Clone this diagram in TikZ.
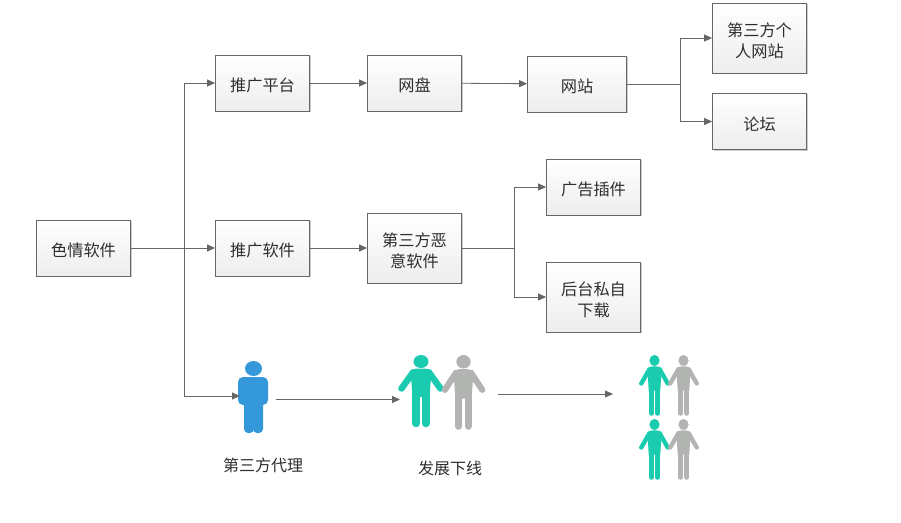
\documentclass[tikz,border=0pt]{standalone}
\usepackage{fontspec}
\newfontfamily\cjk{Noto Sans CJK SC}
\usetikzlibrary{arrows.meta,shadows}
\definecolor{linegray}{HTML}{666666}
\definecolor{textdark}{HTML}{2E2E2E}
\definecolor{agentblue}{HTML}{3498DB}
\definecolor{teamgreen}{HTML}{1BCBB0}
\definecolor{teamgray}{HTML}{B2B4B2}
\tikzset{
  flowbox/.style={draw=linegray,line width=0.8pt,top color=white,bottom color=black!7,
    minimum width=94pt,minimum height=56pt,inner sep=0pt,align=center,text=textdark,
    font=\cjk\fontsize{16.2}{21.5}\selectfont,
    execute at begin node={\rule{0pt}{18.5pt}},
    drop shadow={shadow xshift=1pt,shadow yshift=-1pt,opacity=0.2,fill=black}},
  tallbox/.style={flowbox,minimum height=70pt,text width=90pt,
    execute at begin node={\rule{0pt}{19pt}}},
  caption/.style={inner sep=0pt,text=textdark,font=\cjk\fontsize{16}{20}\selectfont},
  link/.style={draw=linegray,line width=0.8pt},
  linkarrow/.style={link,-{Triangle[length=8pt,width=7pt]}}
}
% figure: x of centre, y of head top, xscale, yscale, colour
\newcommand{\figperson}[5]{
  \begin{scope}[shift={(#1,#2)},xscale=#3,yscale=#4,#5,fill=#5,line cap=round,line join=round]
    \fill (0,6.5) ellipse (7.5 and 6.5);
    \fill (-4,13.5) -- (4,13.5) -- (10.5,15) -- (8.5,42) -- (-8.5,42) -- (-10.5,15) -- cycle;
    \draw[line width=#3*6.5pt] (-8,17.5) -- (-19.5,33.5);
    \draw[line width=#3*6.5pt] (8,17.5) -- (19.5,33.5);
    \draw[line width=#3*7.5pt] (-4.8,38) -- (-4.8,68.5);
    \draw[line width=#3*7.5pt] (4.8,38) -- (4.8,68.5);
  \end{scope}
}
\begin{document}
\begin{tikzpicture}[x=1pt,y=-1pt]
  \useasboundingbox (0,0) rectangle (901,522);
  % Boxes
  \node[flowbox] (seqing) at (83.5,248) {色情软件};
  \node[flowbox] (pingtai) at (262.5,83) {推广平台};
  \node[flowbox] (wangpan) at (414.5,83) {网盘};
  \node[flowbox,minimum width=99pt] (wangzhan) at (577,84) {网站};
  \node[tallbox] (geren) at (759.5,38) {第三方个\\人网站};
  \node[flowbox,minimum height=56.5pt] (luntan) at (759.5,121.5) {论坛};
  \node[flowbox] (ruanjian) at (262.5,248) {推广软件};
  \node[tallbox] (eyi) at (414.5,248) {第三方恶\\意软件};
  \node[flowbox] (chajian) at (593.5,187) {广告插件};
  \node[tallbox] (xiazai) at (593.5,297) {后台私自\\下载};
  % Agent
  \fill[agentblue] (253.5,368.5) ellipse (8.5 and 7.5);
  \fill[agentblue,rounded corners=5pt] (238,377) rectangle (268,405);
  \fill[agentblue,rounded corners=4pt] (244,395) rectangle (254,433);
  \fill[agentblue,rounded corners=4pt] (253,395) rectangle (263,433);
  \coordinate (agentin) at (240,396);
  \coordinate (agentout) at (276,399.5);
  \coordinate (teamin) at (400,399.5);
  \coordinate (teamout) at (498,394);
  \coordinate (groupin) at (613,394);
  % Teams
  \figperson{421}{355}{1}{1}{teamgreen}
  \figperson{463.5}{355}{0.96}{1.04}{teamgray}
  \figperson{654.5}{355}{0.68}{0.85}{teamgreen}
  \figperson{683.5}{355}{0.68}{0.85}{teamgray}
  \figperson{654.5}{419}{0.68}{0.85}{teamgreen}
  \figperson{683.5}{419}{0.68}{0.85}{teamgray}
  % Captions
  \node[caption] (agentlabel) at (263,465) {第三方代理};
  \node[caption] (teamlabel) at (450,468) {发展下线};
  % Links
  \coordinate (splita) at (184,248);
  \coordinate (splitb) at (680.5,84);
  \coordinate (splitc) at (514.5,248);
  \draw[linkarrow] (seqing) -- (ruanjian);
  \draw[linkarrow] (splita) |- (pingtai);
  \draw[linkarrow] (splita) |- (agentin);
  \draw[linkarrow] (pingtai) -- (wangpan);
  \draw[linkarrow] (wangpan) -- (wangzhan);
  \draw[link] (wangzhan) -- (splitb);
  \draw[linkarrow] (splitb) |- (geren);
  \draw[linkarrow] (splitb) |- (luntan);
  \draw[linkarrow] (ruanjian) -- (eyi);
  \draw[link] (eyi) -- (splitc);
  \draw[linkarrow] (splitc) |- (chajian);
  \draw[linkarrow] (splitc) |- (xiazai);
  \draw[linkarrow] (agentout) -- (teamin);
  \draw[linkarrow] (teamout) -- (groupin);
\end{tikzpicture}
\end{document}
